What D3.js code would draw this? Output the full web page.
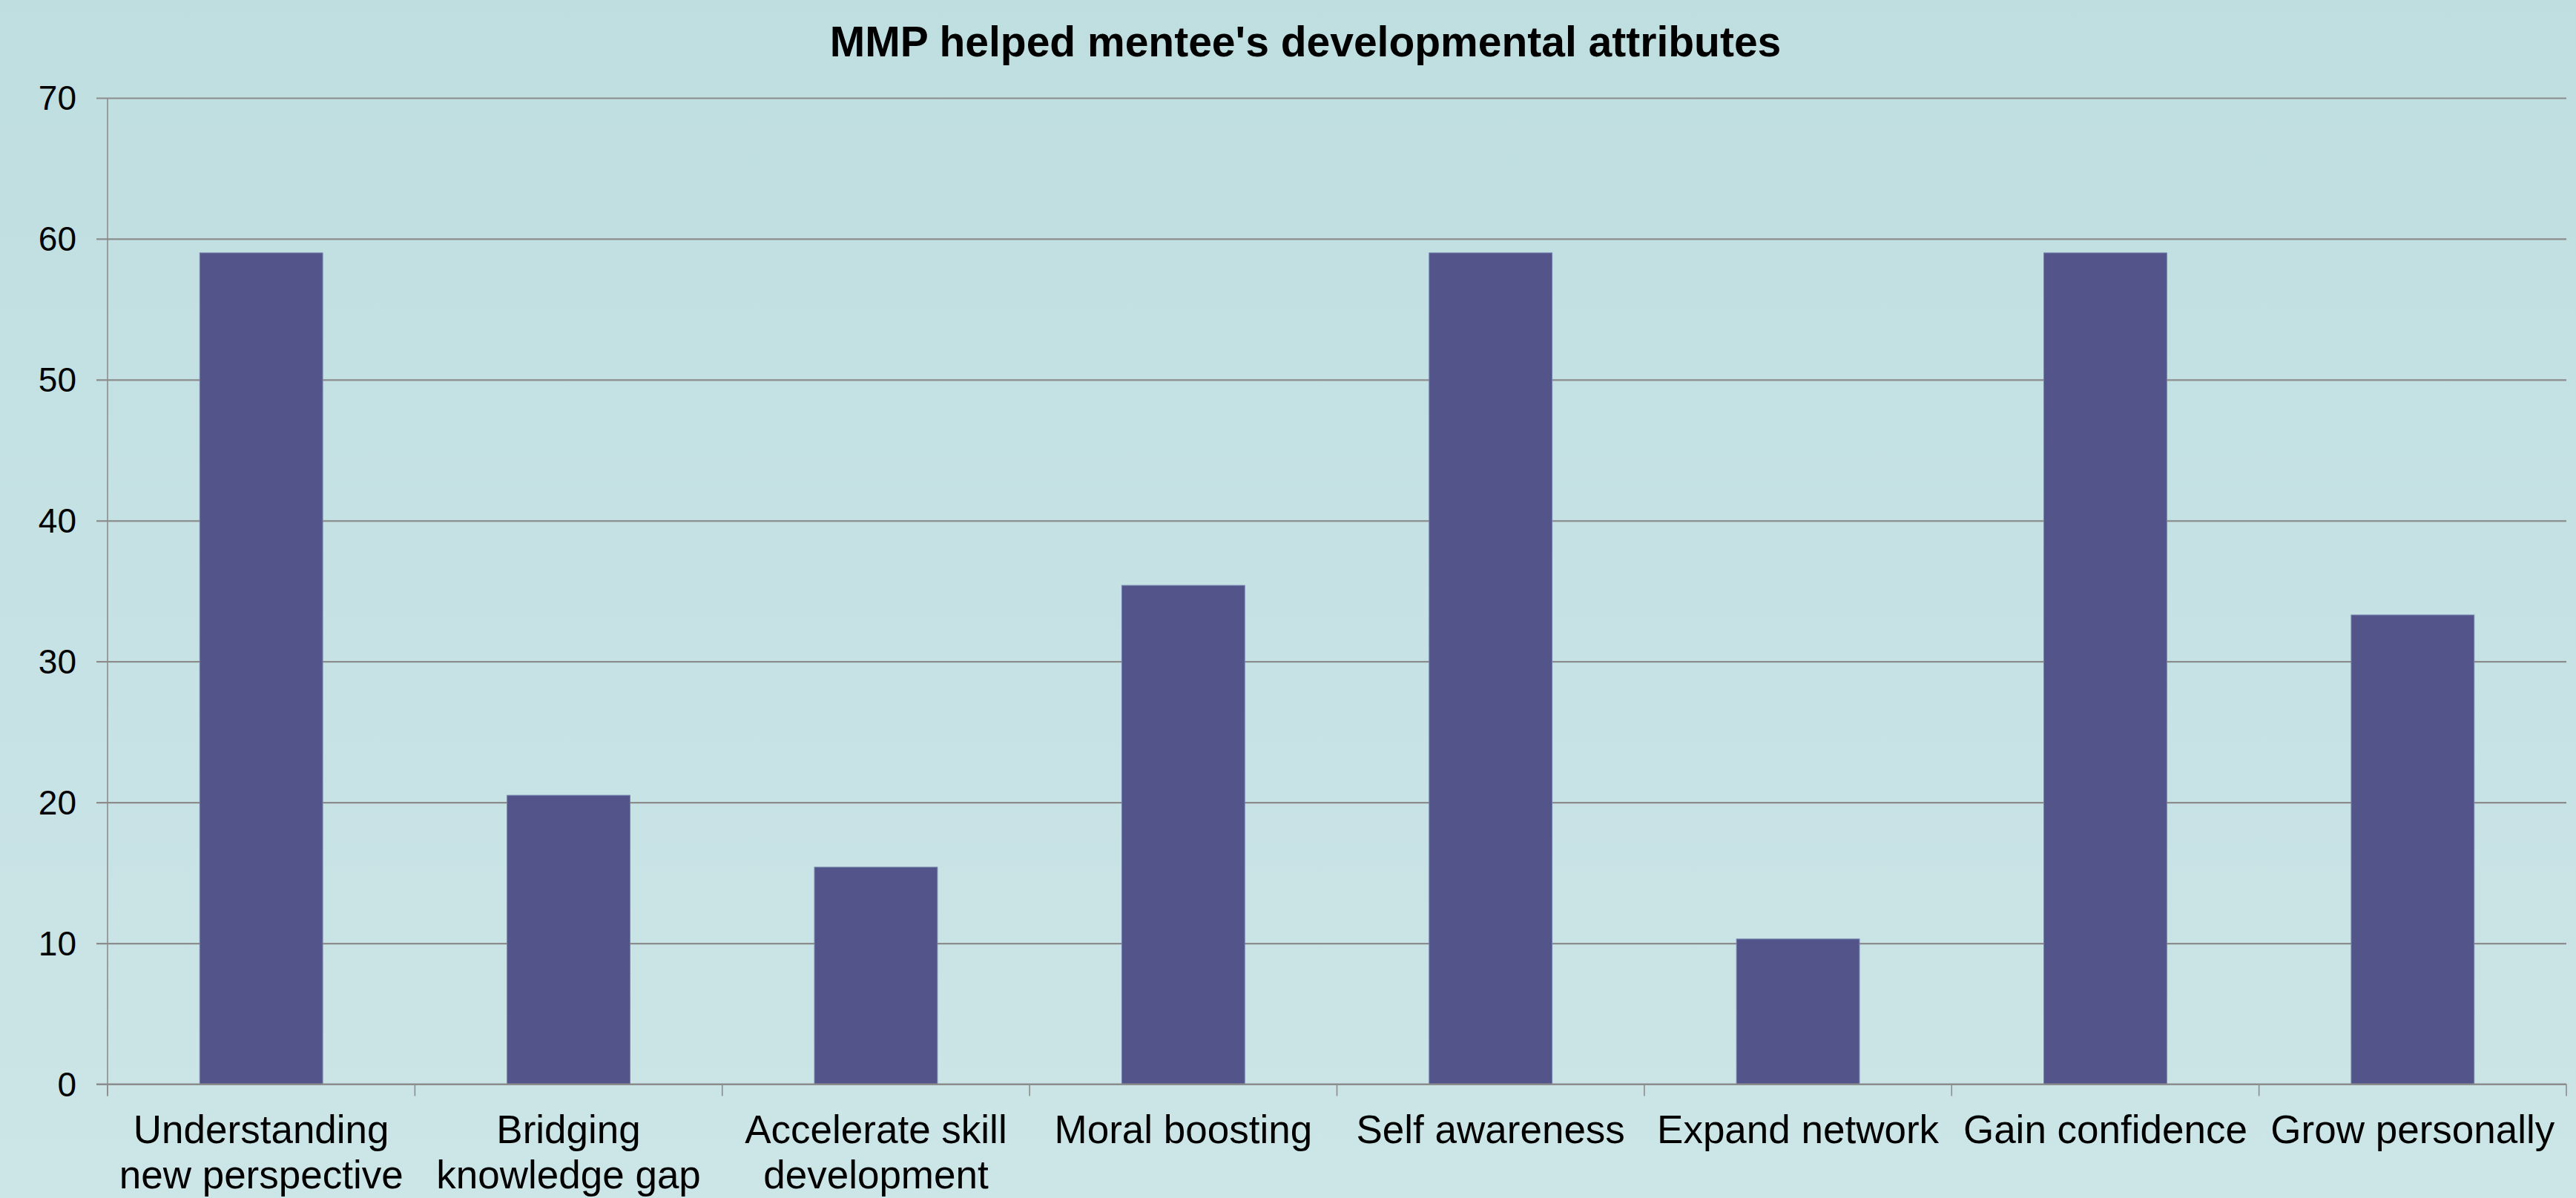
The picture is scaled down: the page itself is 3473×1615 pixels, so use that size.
<!DOCTYPE html>
<html>
<head>
<meta charset="utf-8">
<script src="https://cdn.jsdelivr.net/npm/d3@7"></script>
<style>
  html, body { margin: 0; padding: 0; background: #c4e0e2; }
  svg { display: block; }
  text { font-family: "Liberation Sans", Arial, sans-serif; fill: #000; }
</style>
</head>
<body>
<svg id="chart" width="3473" height="1615"></svg>
<script>
// Chart data
const title = "MMP helped mentee's developmental attributes";
const categories = [
  "Understanding new perspective",
  "Bridging knowledge gap",
  "Accelerate skill development",
  "Moral boosting",
  "Self awareness",
  "Expand network",
  "Gain confidence",
  "Grow personally"
];
// Axis label lines for each category
const categoryLines = [
  ["Understanding", "new perspective"],
  ["Bridging", "knowledge gap"],
  ["Accelerate skill", "development"],
  ["Moral boosting"],
  ["Self awareness"],
  ["Expand network"],
  ["Gain confidence"],
  ["Grow personally"]
];
const values = [59.0, 20.5, 15.4, 35.4, 59.0, 10.3, 59.0, 33.3];
const yTicks = [0, 10, 20, 30, 40, 50, 60, 70];

const W = 3473, H = 1615;
const plot = { left: 145, right: 3460, top: 132, bottom: 1461.5 };

const svg = d3.select("#chart");

// Background gradient
const defs = svg.append("defs");
const grad = defs.append("linearGradient")
  .attr("id", "bg").attr("x1", 0).attr("y1", 0).attr("x2", 0).attr("y2", 1);
grad.append("stop").attr("offset", "0%").attr("stop-color", "#bfdee0");
grad.append("stop").attr("offset", "100%").attr("stop-color", "#cce5e7");
svg.append("rect").attr("width", W).attr("height", H).attr("fill", "url(#bg)");

// Scales
const x = d3.scaleBand()
  .domain(categories)
  .range([plot.left, plot.right])
  .paddingInner(0.6)
  .paddingOuter(0.3);
const step = x.step();

const y = d3.scaleLinear()
  .domain([0, 70])
  .range([plot.bottom, plot.top]);

// Horizontal gridlines with left tick marks
const yAxis = d3.axisLeft(y)
  .tickValues(yTicks)
  .tickSize(-(plot.right - plot.left) - 15)
  .tickSizeOuter(0)
  .tickPadding(27);
const gy = svg.append("g")
  .attr("transform", `translate(${plot.right},0)`);
gy.call(d3.axisLeft(y).tickValues(yTicks).tickSize(plot.right - plot.left + 15).tickFormat("").tickSizeOuter(0));
gy.select(".domain").remove();
gy.selectAll(".tick line").attr("stroke", "#8c8c8c").attr("stroke-width", 2.2);

// Y tick labels
svg.append("g").selectAll("text")
  .data(yTicks)
  .join("text")
  .attr("x", 103)
  .attr("y", d => y(d))
  .attr("dy", "0.35em")
  .attr("text-anchor", "end")
  .attr("font-size", 46)
  .text(d => d);

// Y axis line
svg.append("line")
  .attr("x1", plot.left).attr("x2", plot.left)
  .attr("y1", y(70)).attr("y2", plot.bottom + 16)
  .attr("stroke", "#8c8c8c").attr("stroke-width", 1.6);

// X category boundary ticks
const boundaries = d3.range(categories.length + 1).map(i => plot.left + i * step);
svg.append("g").selectAll("line")
  .data(boundaries)
  .join("line")
  .attr("x1", d => d).attr("x2", d => d)
  .attr("y1", plot.bottom).attr("y2", plot.bottom + 16)
  .attr("stroke", "#8c8c8c").attr("stroke-width", 1.6);

// Bars
svg.append("g").selectAll("rect")
  .data(values)
  .join("rect")
  .attr("x", (d, i) => x(categories[i]))
  .attr("y", d => y(d))
  .attr("width", x.bandwidth())
  .attr("height", d => y(0) - y(d))
  .attr("fill", "#53548a")
  .attr("stroke", "#7280ad")
  .attr("stroke-width", 1);

// Baseline drawn over bars
svg.append("line")
  .attr("x1", plot.left - 15).attr("x2", plot.right)
  .attr("y1", y(0)).attr("y2", y(0))
  .attr("stroke", "#8c8c8c").attr("stroke-width", 2.2);

// Category labels
const labels = svg.append("g").selectAll("text")
  .data(categoryLines)
  .join("text")
  .attr("text-anchor", "middle")
  .attr("font-size", 53)
  .attr("transform", (d, i) => `translate(${x(categories[i]) + x.bandwidth() / 2},1541)`);
labels.selectAll("tspan")
  .data(d => d)
  .join("tspan")
  .attr("x", 0)
  .attr("y", (d, j) => j * 61)
  .text(d => d);

// Title
svg.append("text")
  .attr("x", 1760)
  .attr("y", 76)
  .attr("text-anchor", "middle")
  .attr("font-size", 57)
  .attr("font-weight", "bold")
  .text(title);
</script>
</body>
</html>
